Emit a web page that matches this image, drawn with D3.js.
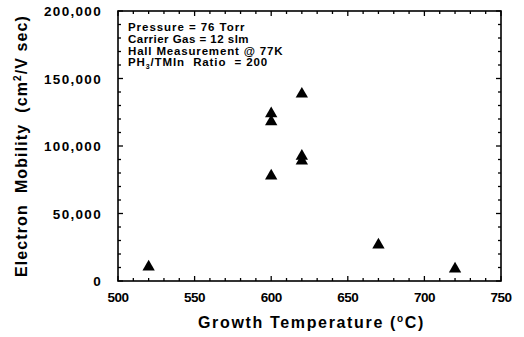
<!DOCTYPE html>
<html><head><meta charset="utf-8">
<script src="https://cdn.jsdelivr.net/npm/d3@7"></script>
<style>body{margin:0;background:#fff}svg{display:block}text{font-family:"Liberation Sans",Arial,sans-serif;font-weight:bold;fill:#000;white-space:pre}</style>
</head><body><div id="c"></div>
<script>
const temperatures = [520, 600, 600, 600, 620, 620, 620, 670, 720];
const mobilities = [10500, 124000, 118000, 77800, 138500, 92500, 88900, 26700, 8900];
const xTicks = [500, 550, 600, 650, 700, 750];
const yTicks = [0, 50000, 100000, 150000, 200000];
const xMinorTicks = [510, 520, 530, 540, 560, 570, 580, 590, 610, 620, 630, 640, 660, 670, 680, 690, 710, 720, 730, 740];
const yMinorTicks = [10000, 20000, 30000, 40000, 60000, 70000, 80000, 90000, 110000, 120000, 130000, 140000, 160000, 170000, 180000, 190000];
const notes = ["Pressure = 76 Torr", "Carrier Gas = 12 slm", "Hall Measurement @ 77K"];

const W = 524, H = 337;
const m = {l:118, r:23, t:11, b:56};
const svg = d3.select("#c").append("svg").attr("width", W).attr("height", H);
const x = d3.scaleLinear().domain([500, 750]).range([m.l, W - m.r]);
const y = d3.scaleLinear().domain([0, 200000]).range([H - m.b, m.t]);
const fmt = d3.format(",");

function fit(sel, target) {
  const node = sel.node();
  const n = node.textContent.length;
  const w = node.getBBox().width;
  const cur = parseFloat(sel.attr("letter-spacing") || 0);
  sel.attr("letter-spacing", cur + (target - w) / n);
}

// frame
svg.append("rect").attr("x", x(500)).attr("y", y(200000))
  .attr("width", x(750) - x(500)).attr("height", y(0) - y(200000))
  .attr("fill", "none").attr("stroke", "#000").attr("stroke-width", 1.6);

// ticks (inward) on all four sides
function hTicks(vals, len, y0, dir) {
  svg.append("g").selectAll("line").data(vals).join("line")
    .attr("x1", d => x(d)).attr("x2", d => x(d)).attr("y1", y0).attr("y2", y0 + dir * len)
    .attr("stroke", "#000").attr("stroke-width", 1.3);
}
function vTicks(vals, len, x0, dir) {
  svg.append("g").selectAll("line").data(vals).join("line")
    .attr("y1", d => y(d)).attr("y2", d => y(d)).attr("x1", x0).attr("x2", x0 + dir * len)
    .attr("stroke", "#000").attr("stroke-width", 1.3);
}
hTicks(xMinorTicks, 3, y(0), -1);
hTicks(xTicks, 5, y(0), -1);
hTicks(xMinorTicks, 3, y(200000), 1);
hTicks(xTicks, 5, y(200000), 1);
vTicks(yMinorTicks, 3, x(500), 1);
vTicks(yTicks, 5, x(500), 1);
vTicks(yMinorTicks, 3, x(750), -1);
vTicks(yTicks, 5, x(750), -1);

// tick labels
const xl = svg.append("g").selectAll("text").data(xTicks).join("text")
  .attr("x", d => x(d)).attr("y", y(0) + 21).attr("text-anchor", "middle")
  .attr("font-size", 13.5).text(d => d);
xl.each(function() { fit(d3.select(this), 21); });
const yl = svg.append("g").selectAll("text").data(yTicks).join("text")
  .attr("x", x(500) - 16).attr("y", d => y(d) + 5).attr("text-anchor", "end")
  .attr("font-size", 13.5).text(d => fmt(d));
yl.filter(d => d === 200000).call(s => fit(s, 58));
const ls = yl.filter(d => d === 200000).attr("letter-spacing");
yl.attr("letter-spacing", ls);

// axis titles
const xt = svg.append("text").attr("x", (x(500) + x(750)) / 2 + 2).attr("y", 328)
  .attr("text-anchor", "middle").attr("font-size", 16)
  .html('Growth Temperature (<tspan dy="-6" font-size="10">o</tspan><tspan dy="6">C)</tspan>');
fit(xt, 227);
const yt = svg.append("text").attr("transform", `translate(27,${(y(0) + y(200000)) / 2}) rotate(-90)`)
  .attr("text-anchor", "middle").attr("font-size", 16)
  .html('Electron  Mobility  (cm<tspan dy="-6" font-size="10">2</tspan><tspan dy="6">/V sec)</tspan>');
fit(yt, 262);

// notes
const ng = svg.append("g");
const noteW = [118, 121, 156];
notes.forEach((t, i) => {
  const s = ng.append("text").attr("x", 128).attr("y", 31 + i * 11.8).attr("font-size", 11.5).text(t);
  fit(s, noteW[i]);
});
const pn = ng.append("text").attr("x", 128).attr("y", 31 + 3 * 11.8).attr("font-size", 11.5)
  .html('PH<tspan dy="3" font-size="7">3</tspan><tspan dy="-3">/TMIn  Ratio  = 200</tspan>');
fit(pn, 140);

// points
const tri = d3.symbol().type(d3.symbolTriangle).size(66);
svg.append("g").selectAll("path").data(temperatures.map((t, i) => [t, mobilities[i]])).join("path")
  .attr("d", tri).attr("transform", d => `translate(${x(d[0])},${y(d[1])})`).attr("fill", "#000");
</script></body></html>
